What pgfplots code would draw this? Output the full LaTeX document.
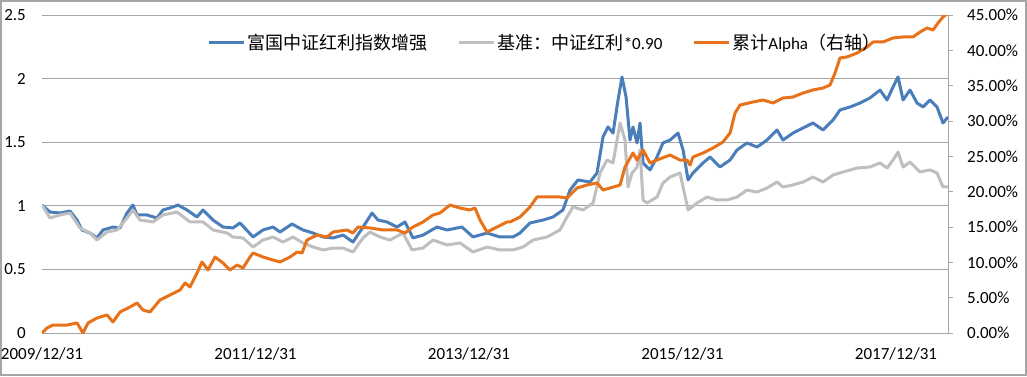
\documentclass[border=0pt]{standalone}
\usepackage{pgfplots}
\pgfplotsset{compat=1.18}
\usepackage{fontspec}
\setmainfont{Carlito}
\newfontfamily\cjk[Scale=1.06]{Noto Sans CJK SC}
\definecolor{cblue}{RGB}{74,126,187}
\definecolor{cgray}{RGB}{191,191,191}
\definecolor{corange}{RGB}{232,114,26}
\definecolor{cgrid}{RGB}{166,166,166}
\begin{document}
\begin{tikzpicture}
\draw[cgrid, line width=2pt] (1pt,1pt) rectangle (1026pt,375pt);
\begin{axis}[
  scale only axis, width=906pt, height=318pt, at={(42pt,43pt)},
  xmin=0, xmax=8.487, ymin=0, ymax=2.5,
  axis line style={draw=none}, major tick length=0pt,
  ymajorgrids, grid style={cgrid, line width=1pt},
  xtick={0,2,4,6,8},
  xticklabels={2009/12/31,2011/12/31,2013/12/31,2015/12/31,2017/12/31},
  ytick={0,0.5,1,1.5,2,2.5},
  yticklabels={0,0.5,1,1.5,2,2.5},
  /pgf/number format/assume math mode=true,
  tick label style={font=\fontsize{17}{20}\selectfont},
  yticklabel style={anchor=east, inner sep=0pt, xshift=-16pt},
  xticklabel style={anchor=north, inner sep=0pt, yshift=-14pt},
  every axis plot/.append style={line width=3pt, line join=round},
]
\addplot[cblue, no marks] table {
x y
0 1.006
0.075 0.951
0.169 0.943
0.262 0.959
0.328 0.888
0.375 0.810
0.450 0.786
0.515 0.747
0.571 0.810
0.665 0.833
0.731 0.826
0.796 0.943
0.852 1.006
0.890 0.928
0.984 0.928
1.077 0.904
1.133 0.967
1.199 0.983
1.274 1.006
1.358 0.967
1.452 0.912
1.508 0.967
1.602 0.888
1.696 0.833
1.789 0.826
1.855 0.865
1.977 0.755
2.070 0.810
2.164 0.833
2.230 0.794
2.342 0.857
2.445 0.810
2.539 0.786
2.632 0.755
2.726 0.747
2.820 0.770
2.913 0.715
3.007 0.833
3.091 0.943
3.148 0.888
3.232 0.873
3.326 0.833
3.400 0.873
3.475 0.747
3.569 0.770
3.700 0.833
3.794 0.810
3.934 0.833
4.037 0.755
4.169 0.786
4.290 0.755
4.412 0.755
4.478 0.786
4.571 0.865
4.693 0.888
4.787 0.912
4.880 0.967
4.946 1.124
5.021 1.203
5.133 1.187
5.199 1.258
5.255 1.541
5.302 1.620
5.349 1.572
5.396 1.832
5.433 2.013
5.471 1.855
5.508 1.517
5.536 1.620
5.574 1.494
5.602 1.651
5.630 1.337
5.696 1.282
5.761 1.384
5.817 1.494
5.883 1.517
5.958 1.572
6.005 1.439
6.052 1.203
6.098 1.258
6.192 1.337
6.258 1.384
6.351 1.305
6.445 1.360
6.511 1.439
6.604 1.494
6.698 1.462
6.792 1.517
6.885 1.596
6.941 1.517
7.035 1.572
7.129 1.612
7.222 1.651
7.316 1.596
7.410 1.675
7.475 1.753
7.569 1.777
7.663 1.808
7.756 1.848
7.850 1.910
7.916 1.832
7.972 1.934
8.019 2.013
8.066 1.832
8.131 1.910
8.197 1.808
8.253 1.777
8.319 1.832
8.384 1.777
8.440 1.651
8.487 1.698
};
\addplot[cgray, no marks] table {
x y
0 1.006
0.075 0.904
0.169 0.928
0.262 0.943
0.356 0.826
0.450 0.786
0.515 0.731
0.609 0.794
0.703 0.810
0.796 0.904
0.852 0.967
0.918 0.888
1.040 0.873
1.133 0.928
1.265 0.951
1.386 0.873
1.508 0.873
1.602 0.810
1.733 0.786
1.789 0.755
1.883 0.747
1.977 0.676
2.070 0.731
2.164 0.755
2.258 0.715
2.351 0.755
2.445 0.708
2.539 0.676
2.632 0.653
2.726 0.668
2.820 0.668
2.913 0.637
3.007 0.747
3.073 0.794
3.166 0.755
3.260 0.731
3.382 0.786
3.466 0.653
3.569 0.668
3.663 0.731
3.794 0.692
3.916 0.708
4.037 0.637
4.169 0.676
4.290 0.653
4.412 0.653
4.506 0.676
4.600 0.731
4.731 0.755
4.852 0.810
4.918 0.912
4.974 0.991
5.068 0.967
5.162 1.022
5.227 1.258
5.293 1.360
5.349 1.337
5.415 1.651
5.461 1.517
5.489 1.148
5.527 1.258
5.574 1.305
5.602 1.439
5.630 1.046
5.667 1.022
5.761 1.069
5.817 1.179
5.883 1.226
5.977 1.258
6.005 1.148
6.052 0.967
6.136 1.022
6.230 1.069
6.323 1.046
6.417 1.046
6.511 1.069
6.604 1.124
6.698 1.108
6.792 1.140
6.885 1.187
6.941 1.148
7.035 1.164
7.129 1.187
7.222 1.226
7.316 1.187
7.410 1.242
7.504 1.266
7.635 1.297
7.756 1.305
7.850 1.337
7.916 1.297
7.972 1.360
8.019 1.423
8.066 1.305
8.131 1.344
8.225 1.266
8.319 1.282
8.384 1.258
8.440 1.148
8.487 1.148
};
\end{axis}
\begin{axis}[
  scale only axis, width=906pt, height=318pt, at={(42pt,43pt)},
  xmin=0, xmax=8.487, ymin=0, ymax=45,
  axis x line=none, axis y line*=right,
  y axis line style={cgrid, line width=1pt},
  ytick={0,5,...,45},
  yticklabels={0.00\%,5.00\%,10.00\%,15.00\%,20.00\%,25.00\%,30.00\%,35.00\%,40.00\%,45.00\%},
  tick align=outside, major tick length=5pt,
  ytick style={cgrid, line width=1pt},
  /pgf/number format/assume math mode=true,
  tick label style={font=\fontsize{17}{20}\selectfont},
  yticklabel style={anchor=west, inner sep=0pt, xshift=14pt},
  every axis plot/.append style={line width=3pt, line join=round},
  legend columns=3,
  legend style={draw=none, fill=none, at={(0.555,0.912)}, anchor=center,
    font=\fontsize{17}{20}\selectfont, inner sep=0pt,
    /tikz/every odd column/.append style={column sep=0pt},
    /tikz/every even column/.append style={column sep=28pt}},
  legend image code/.code={\draw[#1, line width=3pt] (0pt,0pt) -- (35pt,0pt);},
]
\addlegendimage{cblue}
\addlegendentry{\cjk 富国中证红利指数增强}
\addlegendimage{cgray}
\addlegendentry{{\cjk 基准：中证红利}*0.90}
\addplot[corange, no marks] table {
x y
0 0
0.047 0.71
0.103 1.13
0.234 1.13
0.328 1.42
0.384 0
0.431 1.42
0.515 2.12
0.609 2.55
0.665 1.56
0.731 2.97
0.824 3.68
0.890 4.25
0.946 3.25
1.012 2.97
1.105 4.67
1.199 5.38
1.293 6.08
1.340 7.08
1.386 6.51
1.452 8.49
1.499 10.05
1.555 8.92
1.621 10.75
1.696 9.91
1.761 8.92
1.827 9.62
1.883 9.20
1.948 10.75
1.977 11.32
2.070 10.75
2.164 10.33
2.230 10.05
2.323 10.75
2.389 11.46
2.436 11.32
2.482 13.16
2.576 13.87
2.670 13.59
2.726 14.29
2.857 14.58
2.913 14.15
2.960 15.00
3.073 14.86
3.194 14.58
3.326 14.58
3.400 14.15
3.475 15.00
3.569 15.71
3.663 16.70
3.728 16.98
3.822 18.11
3.916 17.69
4.009 17.41
4.056 17.69
4.103 15.99
4.169 14.29
4.262 15.00
4.356 15.71
4.384 15.71
4.478 16.42
4.571 17.83
4.637 19.25
4.731 19.25
4.852 19.25
4.918 19.10
5.012 20.52
5.105 20.94
5.199 21.23
5.255 20.24
5.321 20.52
5.415 20.94
5.461 23.49
5.536 25.47
5.574 24.48
5.630 25.90
5.696 24.06
5.761 24.48
5.883 25.19
5.977 24.48
6.042 24.48
6.070 23.77
6.098 24.91
6.192 25.47
6.286 26.18
6.379 27.03
6.445 28.30
6.492 31.13
6.539 32.26
6.660 32.69
6.754 32.97
6.848 32.55
6.941 33.25
7.035 33.40
7.129 33.96
7.222 34.39
7.316 34.67
7.382 35.09
7.429 36.79
7.475 38.92
7.541 39.06
7.635 39.62
7.728 40.47
7.785 41.18
7.878 41.18
7.972 41.75
8.066 41.89
8.159 41.89
8.225 42.59
8.290 43.16
8.347 42.88
8.393 43.87
8.440 44.72
8.487 45.28
};
\addlegendentry{{\cjk 累计}Alpha{\cjk （右轴）}}
\end{axis}
\end{tikzpicture}
\end{document}
